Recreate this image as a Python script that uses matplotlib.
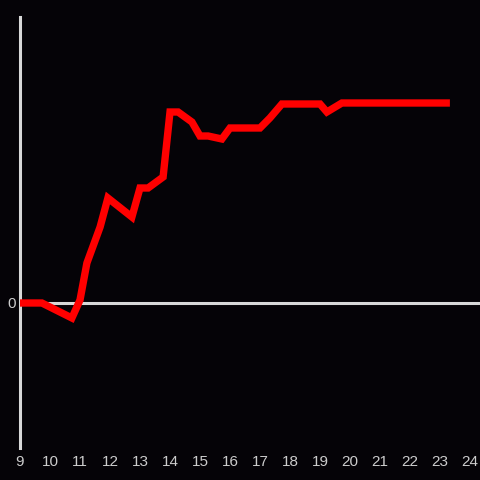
import matplotlib
matplotlib.use("Agg")
import matplotlib.pyplot as plt

# hours of the day and the series value (0 baseline)
hours = [9.0, 9.73, 10.73, 11.0, 11.23, 11.67, 11.93, 12.73, 13.0, 13.27,
         13.77, 14.0, 14.27, 14.73, 15.0, 15.27, 15.73, 16.0, 17.0, 17.33,
         17.73, 19.0, 19.23, 19.73, 23.33]
values = [0, 0, -15, 3, 40, 76, 105, 86, 115, 115,
          126, 191, 191, 181, 167, 167, 164, 175, 175, 185,
          199, 199, 191, 200, 200]
xticks = list(range(9, 25))

bg = '#050307'
fg = '#d8d8d8'

fig = plt.figure(figsize=(4.8, 4.8), dpi=100, facecolor=bg)
ax = fig.add_axes([20 / 480, 32 / 480, 460 / 480, 431 / 480], facecolor=bg)

ax.plot(hours, values, color='#ff0000', linewidth=5.3, solid_joinstyle='miter',
        solid_capstyle='butt', zorder=3)
ax.axhline(0, color=fg, linewidth=2.2, zorder=2)

ax.set_xlim(9, 24 + 10 / 30)
ax.set_ylim(-145, 286)

for side in ['top', 'right', 'bottom']:
    ax.spines[side].set_visible(False)
ax.spines['left'].set_color(fg)
ax.spines['left'].set_linewidth(2.2)

ax.set_xticks(xticks)
ax.set_xticklabels([str(t) for t in xticks])
ax.set_yticks([0])
ax.set_yticklabels(['0'])
ax.tick_params(axis='both', length=0, colors='#cccccc', labelsize=11)
ax.tick_params(axis='x', pad=5)
ax.tick_params(axis='y', pad=3)
for lbl in ax.get_xticklabels() + ax.get_yticklabels():
    lbl.set_fontfamily('Liberation Sans')
for lbl in ax.get_yticklabels():
    lbl.set_va('center_baseline')

fig.savefig('out.png', dpi=100, facecolor=bg)
